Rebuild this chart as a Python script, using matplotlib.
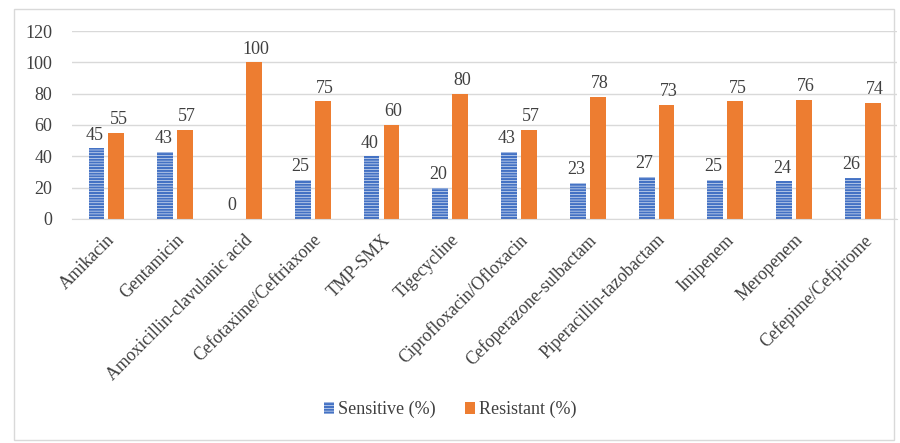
import numpy as np
import matplotlib.pyplot as plt
from matplotlib.patches import Rectangle

plt.rcParams['font.family'] = ['Liberation Serif', 'DejaVu Serif']
plt.rcParams['hatch.linewidth'] = 1.6

drugs = ["Amikacin", "Gentamicin", "Amoxicillin-clavulanic acid",
         "Cefotaxime/Ceftriaxone", "TMP-SMX", "Tigecycline",
         "Ciprofloxacin/Ofloxacin", "Cefoperazone-sulbactam",
         "Piperacillin-tazobactam", "Imipenem", "Meropenem",
         "Cefepime/Cefpirome"]
sensitive = [45, 43, 0, 25, 40, 20, 43, 23, 27, 25, 24, 26]
resistant = [55, 57, 100, 75, 60, 80, 57, 78, 73, 75, 76, 74]

blue = "#4472c4"
orange = "#ed7d31"

fig = plt.figure(figsize=(9, 4.43), dpi=100)
ax = fig.add_axes([0.08, 0.506, 0.917, 0.424])

x = np.arange(len(drugs))
w = 0.23
b1 = ax.bar(x - w / 2 - 0.03, sensitive, w, facecolor="white", edgecolor=blue,
            hatch="------", linewidth=0, label="Sensitive (%)")
b2 = ax.bar(x + w / 2 + 0.03, resistant, w, color=orange, label="Resistant (%)")

for rect, v in zip(b1, sensitive):
    ax.text(rect.get_x() + rect.get_width() / 2 - 0.03, v + 3, str(v),
            ha="center", va="bottom", fontsize=13, color="#404040")
for rect, v in zip(b2, resistant):
    ax.text(rect.get_x() + rect.get_width() / 2 + 0.03, v + 3, str(v),
            ha="center", va="bottom", fontsize=13, color="#404040")

ax.set_xlim(-0.5, len(drugs) - 0.5)
ax.set_ylim(0, 120)
ax.set_yticks(range(0, 121, 20))
ax.yaxis.grid(True, color="#d9d9d9", linewidth=1)
ax.set_axisbelow(True)
for s in ["top", "right", "left"]:
    ax.spines[s].set_visible(False)
ax.spines["bottom"].set_color("#d9d9d9")
ax.tick_params(axis="both", length=0, colors="#404040")
ax.tick_params(axis="y", pad=14, labelsize=13)
ax.tick_params(axis="x", pad=9, labelsize=12.8)
ax.set_xticks(x)
ax.set_xticklabels(drugs, rotation=45, ha="right", rotation_mode="anchor")

fig.legend(handles=[b1, b2], loc="center", bbox_to_anchor=(0.5, 0.075), ncol=2,
           frameon=False, fontsize=13, handlelength=0.6, handleheight=0.6,
           handletextpad=0.2, columnspacing=1.6, labelcolor="#404040")

fig.patches.append(Rectangle((0.016, 0.007), 0.977, 0.972, transform=fig.transFigure,
                             fill=False, edgecolor="#d9d9d9", linewidth=1))

fig.savefig("out.png", dpi=100)
